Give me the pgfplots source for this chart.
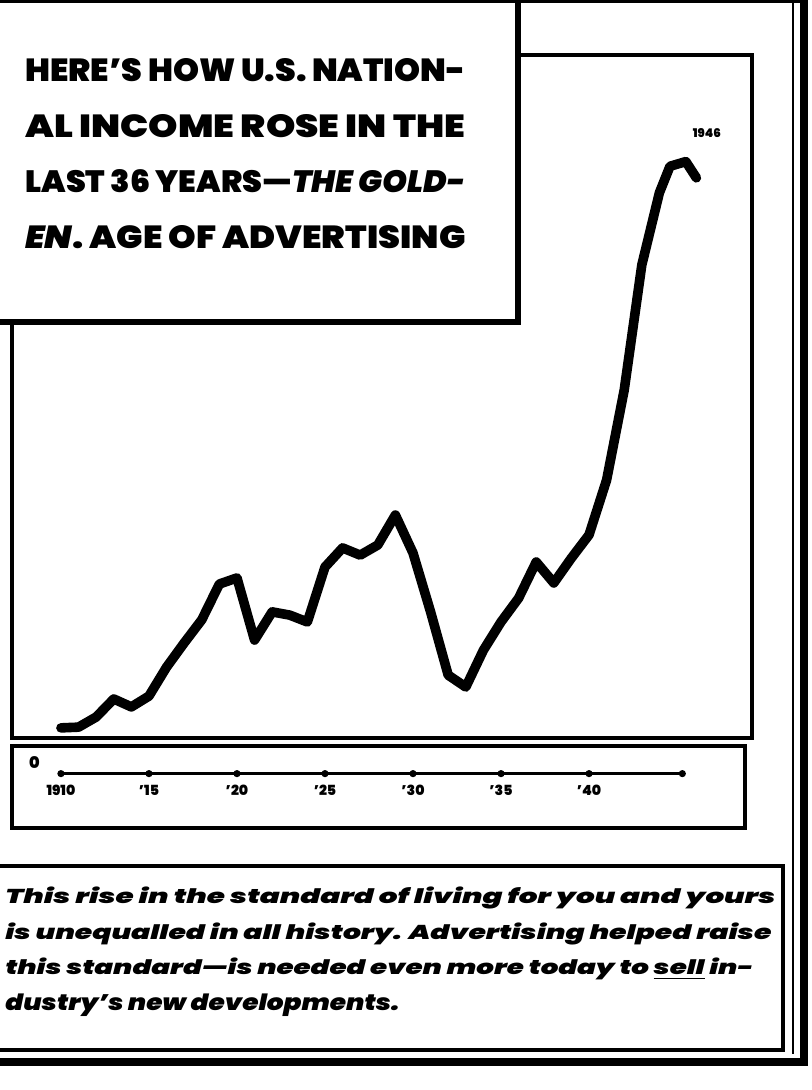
\documentclass[border=0pt]{standalone}
\usepackage{graphicx}
\usepackage{pgfplots}
\pgfplotsset{compat=1.18}
\usepackage{fontspec}
\IfFontExistsTF{Poppins Black}
  {\newfontfamily\heavy{Poppins Black}}
  {\newfontfamily\heavy{Poppins}[UprightFont={* Bold}]}
\IfFontExistsTF{Poppins Black Italic}
  {\newfontfamily\heavyit{Poppins Black Italic}}
  {\newfontfamily\heavyit{Poppins}[UprightFont={* Bold Italic}]}
\begin{document}
\begin{tikzpicture}
\useasboundingbox (0,0) rectangle (406pt,545pt);
\clip (0,0) rectangle (406pt,545pt);
% main chart
\begin{axis}[at={(6pt,176pt)}, anchor=south west, scale only axis,
  width=370pt, height=341.5pt,
  xmin=1907.22, xmax=1949.26, ymin=26.1, ymax=215.1,
  xtick=\empty, ytick=\empty,
  axis line style={line width=2.4pt}, clip=false]
\addplot[line width=4.8pt, line join=round, line cap=round] coordinates {
(1910,28.9) (1911,29.1) (1912,31.9) (1913,36.9) (1914,34.7) (1915,37.7)
(1916,45.7) (1917,52.4) (1918,58.8) (1919,68.7) (1920,70.4) (1921,53.2)
(1922,61.0) (1923,60.1) (1924,58.2) (1925,73.4) (1926,78.7) (1927,76.7)
(1928,79.5) (1929,87.8) (1930,77.3) (1931,61.0) (1932,43.5) (1933,40.2)
(1934,50.4) (1935,58.2) (1936,64.8) (1937,74.8) (1938,69.0) (1939,75.9)
(1940,82.3) (1941,97.5) (1942,122.4) (1943,157.0) (1944,177.0)
(1944.6,184.3) (1945.5,185.6) (1946.1,181.1)
};
\node[font=\heavy\fontsize{6}{6}\selectfont] at (axis cs:1946.7,193.5) {1946};
\end{axis}
% year strip
\begin{axis}[at={(6pt,131pt)}, anchor=south west, scale only axis,
  width=366.5pt, height=41pt,
  xmin=1907.22, xmax=1948.86, ymin=0, ymax=1,
  xtick={1910,1915,1920,1925,1930,1935,1940},
  xticklabels={1910,’15,’20,’25,’30,’35,’40},
  ytick=\empty, major tick length=0pt,
  xticklabel style={font=\heavy\fontsize{7}{7}\selectfont, anchor=center, yshift=19pt},
  axis line style={line width=2.2pt}, clip=false]
\addplot[line width=1.3pt, mark=*, mark size=1.1pt] coordinates {
(1910,0.663) (1915,0.663) (1920,0.663) (1925,0.663) (1930,0.663) (1935,0.663) (1940,0.663) (1945.3,0.663)
};
\node[font=\heavy\fontsize{8}{8}\selectfont] at (axis cs:1908.5,0.8) {0};
\end{axis}
% title box
\draw[line width=2.6pt, fill=white] (-10pt,560pt) rectangle (259pt,384pt);
\node[anchor=base west, inner sep=0pt] at (12.5pt,504pt) {\resizebox{220pt}{11.5pt}{\heavy HERE’S HOW U.S. NATION-}};
\node[anchor=base west, inner sep=0pt] at (12.5pt,476pt) {\resizebox{220pt}{11.5pt}{\heavy AL INCOME ROSE IN THE}};
\node[anchor=base west, inner sep=0pt] at (12.5pt,448.5pt) {\resizebox{220pt}{11.5pt}{\heavy LAST 36 YEARS—{\heavyit THE GOLD-}}};
\node[anchor=base west, inner sep=0pt] at (12.5pt,420.5pt) {\resizebox{220pt}{11.5pt}{{\heavyit EN}\heavy. AGE OF ADVERTISING}};
% text box and frame
\draw[line width=1.8pt] (-10pt,112pt) -- (391.5pt,112pt) -- (391.5pt,20pt) -- (-10pt,20pt);
\draw[line width=2.5pt] (-10pt,544.5pt) -- (402pt,544.5pt);
\draw[line width=1.2pt] (396.5pt,545pt) -- (396.5pt,18pt);
\draw[line width=4pt] (402pt,550pt) -- (402pt,14pt) -- (-10pt,14pt);
\node[anchor=base west, inner sep=0pt] at (2.5pt,93pt) {\resizebox{385pt}{8.3pt}{\heavyit This rise in the standard of living for you and yours}};
\node[anchor=base west, inner sep=0pt] at (2.5pt,75pt) {\resizebox{383pt}{8.3pt}{\heavyit is unequalled in all history. Advertising helped raise}};
\node[anchor=base west, inner sep=0pt] at (2.5pt,57.5pt) {\resizebox{374pt}{8.3pt}{\heavyit this standard—is needed even more today to \underline{sell} in-}};
\node[anchor=base west, inner sep=0pt] at (2.5pt,39.5pt) {\resizebox{197pt}{8.3pt}{\heavyit dustry’s new developments.}};
\end{tikzpicture}
\end{document}
